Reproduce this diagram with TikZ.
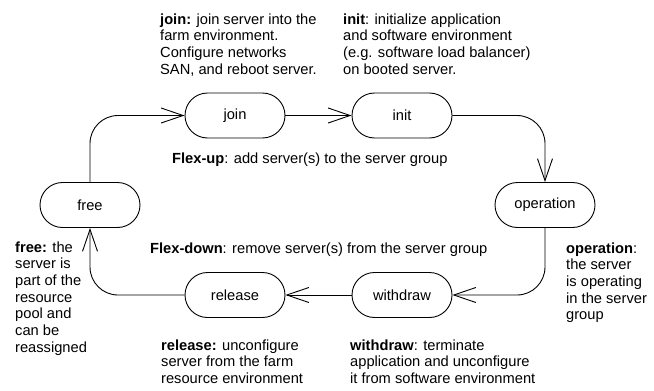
\documentclass[tikz,border=0pt]{standalone}
\usepackage{fontspec}
\setmainfont{Liberation Sans}
\usetikzlibrary{arrows.meta,shapes.misc}

\tikzset{
  state/.style={draw, line width=0.9pt, rounded rectangle, minimum width=100pt,
    minimum height=45pt, inner sep=0pt},
  flow/.style={draw, line width=0.9pt, rounded corners=28pt,
    -{Straight Barb[length=22pt, width=15pt, line width=0.9pt]}},
  note/.style={anchor=base west, inner sep=0pt},
}
% multi-line description whose baseline is its first line
\newcommand{\desc}[1]{\begin{tabular}[t]{@{}l@{}}#1\end{tabular}}

\begin{document}
\begin{tikzpicture}[x=1pt, y=-1pt,
  every node/.append style={font=\fontsize{14.67}{16.7}\selectfont}]
\useasboundingbox (0,0) rectangle (654,391);

% lifecycle states
\node[state] (join)      at (235,115.5) {join};
\node[state] (init)      at (402,115.5) {init};
\node[state] (operation) at (545,205)   {operation};
\node[state] (withdraw)  at (402,295)   {withdraw};
\node[state] (release)   at (235,295)   {release};
\node[state] (free)      at (90,205)    {free};

% transitions
\draw[flow] (free.north) |- (join.west);
\draw[flow] (join.east) -- (init.west);
\draw[flow] (init.east) -| (operation.north);
\draw[flow] (operation.south) |- (withdraw.east);
\draw[flow] (withdraw.west) -- (release.east);
\draw[flow] (release.west) -| (free.south);

% descriptions
\node[note] (tjoin) at (160,24) {\desc{\textbf{join:} join server into the\\
  farm environment.\\Configure networks\\SAN, and reboot server.}};
\node[note] (tinit) at (343,24) {\desc{\textbf{init}: initialize application\\
  and software environment\\(e.g. software load balancer)\\on booted server.}};
\node[note] (tup) at (172,163) {\textbf{Flex-up}: add server(s) to the server group};
\node[note] (tdown) at (150,253) {\textbf{Flex-down}: remove server(s) from the server group};
\node[note] (tfree) at (15,252) {\desc{\textbf{free:} the\\server is\\part of the\\
  resource\\pool and\\can be\\reassigned}};
\node[note] (toper) at (566,253) {\desc{\textbf{operation}:\\the server\\is operating\\
  in the server\\group}};
\node[note] (trel) at (161,350) {\desc{\textbf{release:} unconfigure\\
  server from the farm\\resource environment}};
\node[note] (twd) at (350,350) {\desc{\textbf{withdraw}: terminate\\
  application and unconfigure\\it from software environment}};
\end{tikzpicture}
\end{document}
